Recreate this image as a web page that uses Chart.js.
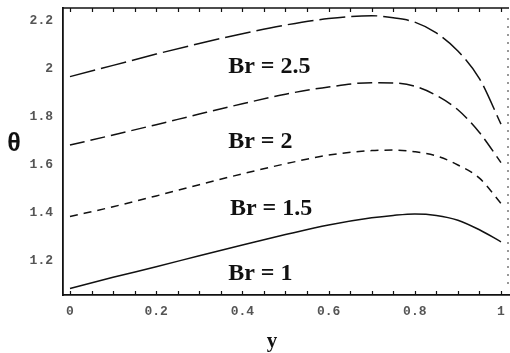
<!DOCTYPE html>
<html>
<head>
<meta charset="utf-8">
<script src="https://cdn.jsdelivr.net/npm/chart.js@4.4.1/dist/chart.umd.min.js"></script>
<style>
  html, body { margin: 0; padding: 0; background: #fff; }
  #wrap { width: 510px; height: 353px; }
</style>
</head>
<body>
<div id="wrap"><canvas id="chart"></canvas></div>
<script>
const yValues = [0, 0.1, 0.2, 0.3, 0.4, 0.5, 0.6, 0.7, 0.75, 0.8, 0.85, 0.9, 0.95, 1];

// theta for each Brinkman number
const thetaBr1   = [1.085, 1.132, 1.176, 1.222, 1.267, 1.31, 1.35, 1.38, 1.39, 1.396, 1.39, 1.37, 1.33, 1.28];
const thetaBr15  = [1.385, 1.426, 1.471, 1.518, 1.563, 1.605, 1.641, 1.66, 1.662, 1.655, 1.638, 1.6, 1.545, 1.44];
const thetaBr2   = [1.683, 1.725, 1.768, 1.812, 1.855, 1.895, 1.925, 1.943, 1.942, 1.928, 1.89, 1.83, 1.735, 1.61];
const thetaBr25  = [1.968, 2.015, 2.062, 2.106, 2.147, 2.183, 2.21, 2.222, 2.213, 2.195, 2.15, 2.075, 1.96, 1.77];

const seriesLabels = ['Br = 1', 'Br = 1.5', 'Br = 2', 'Br = 2.5'];

const xTicks = [0, 0.2, 0.4, 0.6, 0.8, 1];
const yTicks = [1.2, 1.4, 1.6, 1.8, 2, 2.2];
const minorXTicks = [0, 0.05, 0.1, 0.15, 0.2, 0.25, 0.3, 0.35, 0.4, 0.45, 0.5, 0.55, 0.6, 0.65, 0.7, 0.75, 0.8, 0.85, 0.9, 0.95, 1];

// where the "Br = ..." labels sit, in data units
const labelX = [0.367, 0.371, 0.367, 0.367];
const labelTheta = [1.121, 1.392, 1.671, 1.983];

const toPoints = vals => yValues.map((y, i) => ({ x: y, y: vals[i] }));

// frame, inward ticks, curve labels and axis titles
const decorations = {
    id: 'decorations',
    afterDatasetsDraw(chart) {
        const { ctx, chartArea, scales } = chart;
        const xs = scales.x;
        ctx.save();
        ctx.strokeStyle = '#111';
        ctx.lineWidth = 1.6;
        // top frame
        ctx.beginPath();
        ctx.moveTo(chartArea.left, chartArea.top);
        ctx.lineTo(chartArea.right, chartArea.top);
        ctx.stroke();
        // inward ticks on top and bottom
        ctx.lineWidth = 1.2;
        minorXTicks.forEach(v => {
            const px = Math.round(xs.getPixelForValue(v)) + 0.5;
            ctx.beginPath();
            ctx.moveTo(px, chartArea.bottom);
            ctx.lineTo(px, chartArea.bottom - 4);
            ctx.moveTo(px, chartArea.top);
            ctx.lineTo(px, chartArea.top + 4);
            ctx.stroke();
        });
        // dotted right edge
        ctx.setLineDash([2, 6]);
        ctx.strokeStyle = '#555';
        ctx.beginPath();
        ctx.moveTo(chartArea.right - 1, chartArea.top + 10);
        ctx.lineTo(chartArea.right - 1, chartArea.bottom - 6);
        ctx.stroke();
        ctx.setLineDash([]);

        // curve labels
        ctx.fillStyle = '#111';
        ctx.font = 'bold 24px "Liberation Serif", "DejaVu Serif", serif';
        ctx.textAlign = 'left';
        ctx.textBaseline = 'alphabetic';
        seriesLabels.forEach((t, i) => {
            ctx.fillText(t, xs.getPixelForValue(labelX[i]), scales.y.getPixelForValue(labelTheta[i]));
        });

        // axis titles
        ctx.font = 'bold 25px "Liberation Sans", "DejaVu Sans", sans-serif';
        ctx.textAlign = 'center';
        ctx.textBaseline = 'middle';
        ctx.fillText('θ', 14, 144);
        ctx.font = 'bold 21px "Liberation Serif", "DejaVu Serif", serif';
        ctx.textBaseline = 'alphabetic';
        ctx.fillText('y', 272, 347);
        ctx.restore();
    }
};

const ctx = document.getElementById('chart');

new Chart(ctx, {
    type: 'line',
    data: {
        datasets: [
            { label: seriesLabels[0], data: toPoints(thetaBr1), borderDash: [] },
            { label: seriesLabels[1], data: toPoints(thetaBr15), borderDash: [8, 6] },
            { label: seriesLabels[2], data: toPoints(thetaBr2), borderDash: [15, 6] },
            { label: seriesLabels[3], data: toPoints(thetaBr25), borderDash: [26, 6] }
        ].map(d => Object.assign(d, {
            borderColor: '#111',
            borderWidth: 1.5,
            pointRadius: 0,
            tension: 0.4,
            cubicInterpolationMode: 'monotone',
            fill: false
        }))
    },
    options: {
        responsive: true,
        maintainAspectRatio: false,
        animation: false,
        layout: { padding: { left: 0, right: 1, top: 8, bottom: 0 } },
        plugins: {
            legend: { display: false },
            tooltip: { enabled: false }
        },
        scales: {
            x: {
                type: 'linear',
                min: -0.0162,
                max: 1.0186,
                afterFit: s => { s.height = 58; s.paddingLeft = 0; s.paddingRight = 0; },
                afterBuildTicks: s => { s.ticks = xTicks.map(v => ({ value: v })); },
                grid: { display: false, drawTicks: false },
                border: { display: true, color: '#111', width: 1.8 },
                ticks: {
                    padding: 9,
                    maxRotation: 0,
                    color: '#555',
                    font: { family: '"Liberation Mono", "DejaVu Sans Mono", monospace', size: 13, weight: 'bold' },
                    callback: v => String(v)
                }
            },
            y: {
                min: 1.0583,
                max: 2.254,
                afterFit: s => { s.width = 63; s.paddingTop = 0; s.paddingBottom = 0; },
                afterBuildTicks: s => { s.ticks = yTicks.map(v => ({ value: v })); },
                grid: { display: false, drawTicks: false },
                border: { display: true, color: '#111', width: 1.8 },
                ticks: {
                    padding: 10,
                    color: '#555',
                    font: { family: '"Liberation Mono", "DejaVu Sans Mono", monospace', size: 13, weight: 'bold' },
                    callback: v => String(v)
                }
            }
        }
    },
    plugins: [decorations]
});
</script>
</body>
</html>
